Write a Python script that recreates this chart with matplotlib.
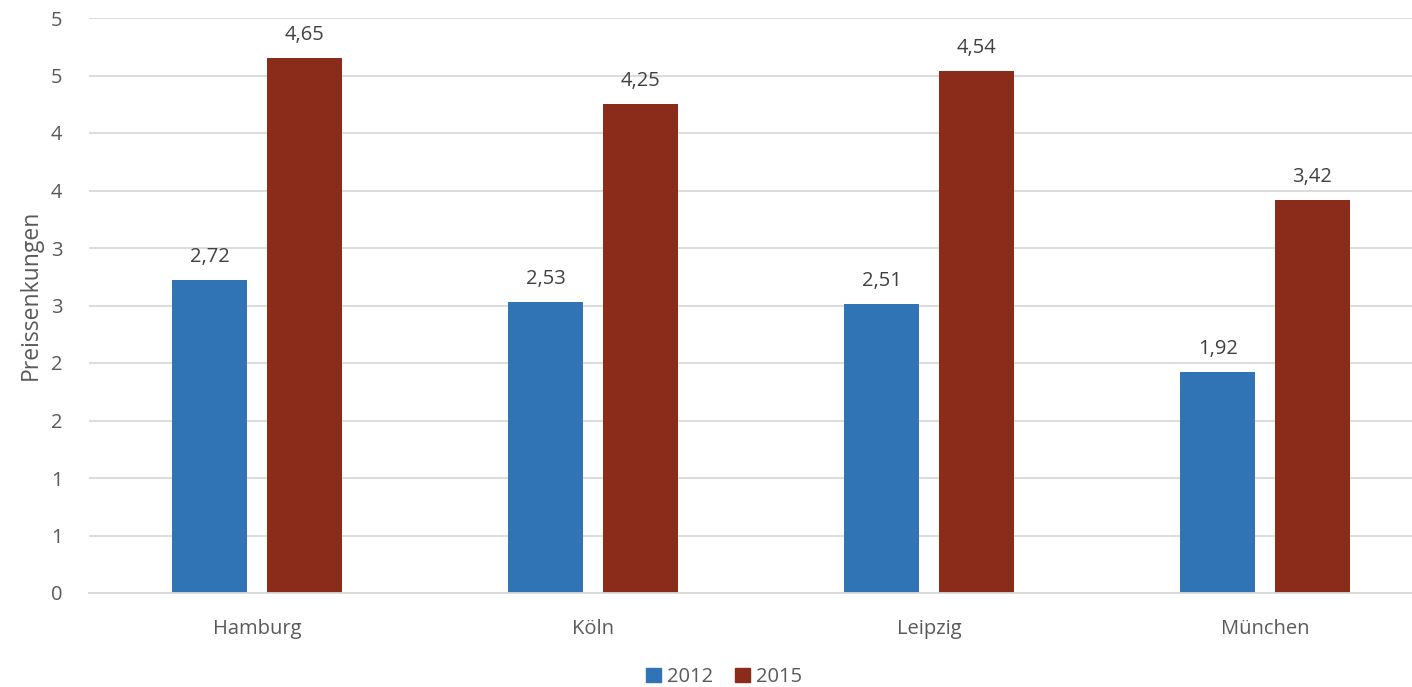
import matplotlib
matplotlib.use("Agg")
import matplotlib.pyplot as plt
import numpy as np
from matplotlib.ticker import FixedLocator, FixedFormatter

plt.rcParams['font.family'] = ['Open Sans', 'DejaVu Sans']

cities = ["Hamburg", "Köln", "Leipzig", "München"]
years = ["2012", "2015"]
values_2012 = [2.72, 2.53, 2.51, 1.92]
values_2015 = [4.65, 4.25, 4.54, 3.42]
y_ticks = [0, 0.5, 1, 1.5, 2, 2.5, 3, 3.5, 4, 4.5, 5]
y_tick_labels = ["0", "1", "1", "2", "2", "3", "3", "4", "4", "5", "5"]

colors = ["#3174b5", "#8b2b1a"]
text_dark = "#404040"
text_mid = "#595959"
grid_col = "#d9d9d9"
fs = 14.5

fig = plt.figure(figsize=(14.12, 6.87), dpi=100)
ax = fig.add_axes([89 / 1412, 1 - 593 / 687, 1344 / 1412, 575 / 687])

x = np.arange(len(cities))
bar_w = 0.223
off = 0.141
for series, sign, col in zip([values_2012, values_2015], [-1, 1], colors):
    bars = ax.bar(x + sign * off, series, width=bar_w, color=col, zorder=2)
    for b, v in zip(bars, series):
        ax.text(b.get_x() + b.get_width() / 2, v + 0.2, f"{v:.2f}".replace(".", ","),
                ha="center", va="center", fontsize=fs, color=text_dark)

ax.set_xlim(-0.5, len(cities) - 0.5)
ax.set_ylim(0, 5)
ax.yaxis.set_major_locator(FixedLocator(y_ticks))
ax.yaxis.set_major_formatter(FixedFormatter(y_tick_labels))
ax.set_xticks(x)
ax.set_xticklabels(cities)
ax.grid(axis="y", color=grid_col, linewidth=1.3, zorder=0)
ax.set_axisbelow(True)
for s in ["top", "right", "left"]:
    ax.spines[s].set_visible(False)
ax.spines["bottom"].set_color(grid_col)
ax.spines["bottom"].set_linewidth(1.3)
ax.tick_params(axis="both", length=0, labelsize=fs, colors=text_mid)
ax.tick_params(axis="y", pad=19)
ax.tick_params(axis="x", pad=19)
ax.set_ylabel("Preissenkungen", fontsize=16.5, color=text_mid)
ax.yaxis.set_label_coords(-46 / 1344, 0.518)

handles = [plt.Rectangle((0, 0), 1, 1, color=c) for c in colors]
fig.legend(handles, years, loc="center", bbox_to_anchor=(724 / 1412, 1 - 677 / 687),
           ncol=2, frameon=False, fontsize=fs, handlelength=0.75, handleheight=0.75,
           handletextpad=0.3, columnspacing=1.1, labelcolor=text_mid)

fig.savefig("out.png", dpi=100)
